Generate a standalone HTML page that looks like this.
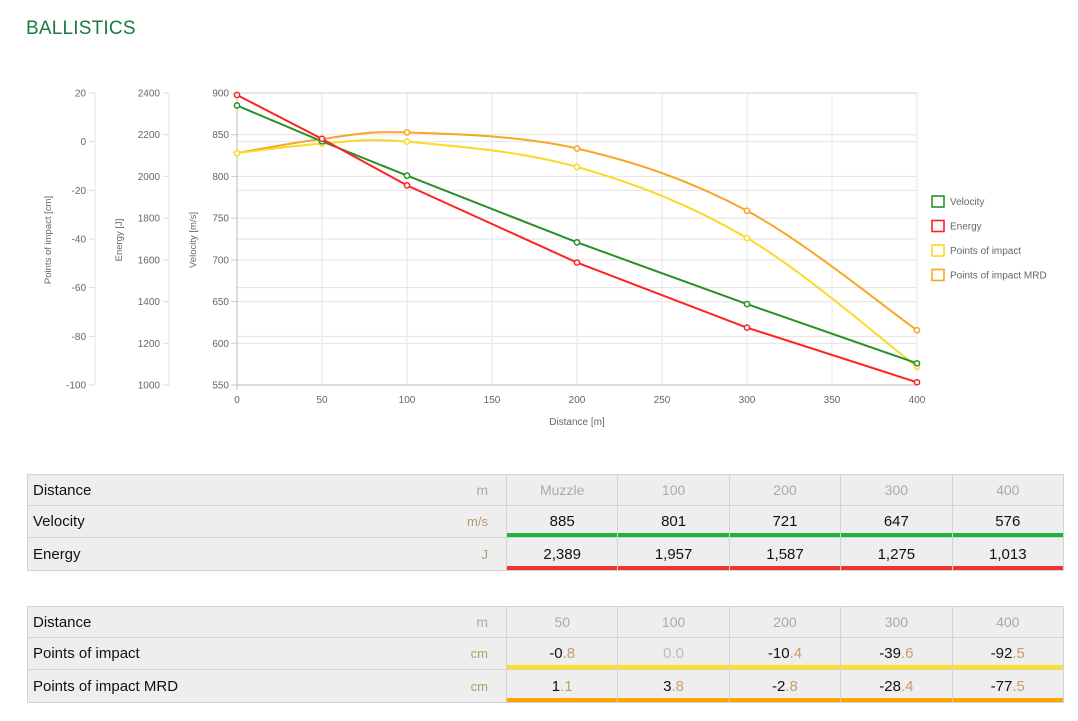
<!DOCTYPE html>
<html><head><meta charset="utf-8"><style>
html,body{margin:0;background:#fff;font-family:"Liberation Sans",sans-serif;width:1078px;height:721px;overflow:hidden;position:relative}
h1{position:absolute;left:26px;top:18px;margin:0;font-weight:normal;font-size:19px;color:#1b7a3e;letter-spacing:0.2px}
svg{position:absolute;left:0;top:0}
table{position:absolute;left:27px;border-collapse:collapse;width:1037px;table-layout:fixed;font-size:15px;background:#eee}
td{border:1px solid #d3d3d3;padding:0;text-align:center;color:#111;overflow:hidden;white-space:nowrap}
td.l{text-align:left;padding-left:5px;border-right:none}
td.u{text-align:right;padding-right:18px;border-left:none;color:#b89a6a;font-size:13px}
tr.h td{color:#aaa;font-size:14px}
tr.h td.l{color:#111;font-size:15px}
.g{box-shadow:inset 0 -4px 0 #22b33a}.r{box-shadow:inset 0 -4px 0 #ee3333}
.y{box-shadow:inset 0 -4px 0 #ffe020}.o{box-shadow:inset 0 -4px 0 #ffa500}
span{color:#c4a06b}
</style></head><body>
<h1>BALLISTICS</h1>
<svg width="1078" height="460" id="s" font-family="Liberation Sans, sans-serif" font-size="10" fill="#666"></svg>
<table style="top:474px">
<colgroup><col style="width:420px"><col style="width:59px"><col><col><col><col><col></colgroup>
<tr class="h" style="height:31px"><td class="l">Distance</td><td class="u">m</td><td>Muzzle</td><td>100</td><td>200</td><td>300</td><td>400</td></tr>
<tr style="height:32px"><td class="l">Velocity</td><td class="u">m/s</td><td class="g">885</td><td class="g">801</td><td class="g">721</td><td class="g">647</td><td class="g">576</td></tr>
<tr style="height:33px"><td class="l">Energy</td><td class="u">J</td><td class="r">2,389</td><td class="r">1,957</td><td class="r">1,587</td><td class="r">1,275</td><td class="r">1,013</td></tr>
</table>
<table style="top:606px">
<colgroup><col style="width:420px"><col style="width:59px"><col><col><col><col><col></colgroup>
<tr class="h" style="height:31px"><td class="l">Distance</td><td class="u">m</td><td>50</td><td>100</td><td>200</td><td>300</td><td>400</td></tr>
<tr style="height:32px"><td class="l">Points of impact</td><td class="u">cm</td><td class="y">-0<span>.8</span></td><td class="y" style="color:#bbb">0.0</td><td class="y">-10<span>.4</span></td><td class="y">-39<span>.6</span></td><td class="y">-92<span>.5</span></td></tr>
<tr style="height:33px"><td class="l">Points of impact MRD</td><td class="u">cm</td><td class="o">1<span>.1</span></td><td class="o">3<span>.8</span></td><td class="o">-2<span>.8</span></td><td class="o">-28<span>.4</span></td><td class="o">-77<span>.5</span></td></tr>
</table>
<script>
var s=document.getElementById('s'),h='';
var X0=237,X1=917,Y0=93,Y1=385;
function X(d){return X0+(X1-X0)*d/400}
var hl=[];for(var i=0;i<8;i++)hl.push(Y0+i*(Y1-Y0)/7);
for(var i=0;i<7;i++)hl.push(Y0+i*(Y1-Y0)/6);
hl.forEach(function(y){h+='<line x1="'+X0+'" x2="'+X1+'" y1="'+y+'" y2="'+y+'" stroke="#e2e2e2"/>'});
for(var d=50;d<=400;d+=50)h+='<line x1="'+X(d)+'" x2="'+X(d)+'" y1="'+Y0+'" y2="'+Y1+'" stroke="#e6e6e6"/>';
h+='<line x1="'+X0+'" x2="'+X0+'" y1="'+Y0+'" y2="'+(Y1+5)+'" stroke="#bbb"/><line x1="'+X0+'" x2="'+X1+'" y1="'+Y1+'" y2="'+Y1+'" stroke="#bbb"/>';
h+='<line x1="'+X0+'" x2="'+X1+'" y1="'+Y0+'" y2="'+Y0+'" stroke="#ccc"/>';
for(var i=0;i<8;i++){var y=Y0+i*(Y1-Y0)/7;h+='<text x="229" y="'+(y+3.5)+'" text-anchor="end">'+(900-50*i)+'</text><line x1="231" x2="237" y1="'+y+'" y2="'+y+'" stroke="#ccc"/>';
h+='<text x="160" y="'+(y+3.5)+'" text-anchor="end">'+(2400-200*i)+'</text><line x1="163" x2="169" y1="'+y+'" y2="'+y+'" stroke="#ddd"/>';}
h+='<line x1="169" x2="169" y1="'+Y0+'" y2="'+Y1+'" stroke="#e6e6e6"/><line x1="95" x2="95" y1="'+Y0+'" y2="'+Y1+'" stroke="#e6e6e6"/>';
for(var i=0;i<7;i++){var y=Y0+i*(Y1-Y0)/6;h+='<text x="86" y="'+(y+3.5)+'" text-anchor="end">'+(20-20*i)+'</text><line x1="89" x2="95" y1="'+y+'" y2="'+y+'" stroke="#ddd"/>';}
for(var d=0;d<=400;d+=50)h+='<text x="'+X(d)+'" y="403" text-anchor="middle">'+d+'</text>';
h+='<text x="577" y="425" text-anchor="middle" font-size="10">Distance [m]</text>';
h+='<text transform="translate(51,240) rotate(-90)" text-anchor="middle" font-size="9.5">Points of impact [cm]</text>';
h+='<text transform="translate(122,240) rotate(-90)" text-anchor="middle" font-size="9.5">Energy [J]</text>';
h+='<text transform="translate(196,240) rotate(-90)" text-anchor="middle" font-size="9.5">Velocity [m/s]</text>';
function vy(v){return Y0+(900-v)*(Y1-Y0)/350}
function ey(v){return Y0+(2400-v)*(Y1-Y0)/1400}
function py(v){return Y0+(20-v)*(Y1-Y0)/120}
var D=[0,50,100,200,300,400];
function pts(a,f){return a.map(function(v,i){return[X(D[i]),f(v)]})}
function curve(p,t){var s='M'+p[0][0]+','+p[0][1];for(var i=0;i<p.length-1;i++){var a=p[i-1]||p[i],b=p[i],c=p[i+1],e=p[i+2]||c;
s+=' C'+(b[0]+(c[0]-a[0])*t)+','+(b[1]+(c[1]-a[1])*t)+' '+(c[0]-(e[0]-b[0])*t)+','+(c[1]-(e[1]-b[1])*t)+' '+c[0]+','+c[1];}return s}
function ser(p,col,t){h+='<path d="'+(t?curve(p,t):'M'+p.join(' L'))+'" fill="none" stroke="'+col+'" stroke-width="2"/>';
p.forEach(function(q){h+='<circle cx="'+q[0]+'" cy="'+q[1]+'" r="2.6" fill="#fff" stroke="'+col+'" stroke-width="1.5"/>'})}
ser(pts([-4.7,1.1,3.8,-2.8,-28.4,-77.5],py),'#f8a623',0.17);
ser(pts([-4.7,-0.8,0,-10.4,-39.6,-92.5],py),'#fcd924',0.17);
ser(pts([885,842,801,721,647,576],vy),'#2a8f2a',0);
ser(pts([2389,2180,1957,1587,1275,1013],ey).map(function(q,i){return i==0?[q[0],95]:q}),'#f22',0);
var L=[['Velocity','#2a8f2a'],['Energy','#f22'],['Points of impact','#fcd924'],['Points of impact MRD','#f8a623']];
L.forEach(function(l,i){var y=196+i*24.5;h+='<rect x="932" y="'+y+'" width="12" height="11" fill="none" stroke="'+l[1]+'" stroke-width="1.6"/><text x="950" y="'+(y+9)+'" fill="#666" font-size="10">'+l[0]+'</text>'});
s.innerHTML=h;
</script>
</body></html>
